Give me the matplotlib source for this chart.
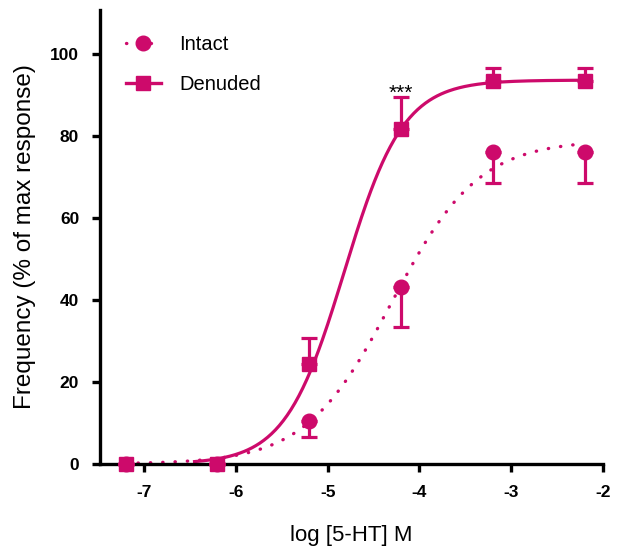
import numpy as np
import matplotlib
matplotlib.use("Agg")
import matplotlib.pyplot as plt
from matplotlib.lines import Line2D

# ---- data ----
log_conc = [-7.2, -6.2, -5.2, -4.2, -3.2, -2.2]
intact_mean = [0, 0, 10.4, 43.2, 76.1, 76.1]
intact_err_down = [0, 0, 3.8, 9.8, 7.6, 7.6]
denuded_mean = [0, 0, 24.4, 81.7, 93.4, 93.4]
denuded_err_up = [0, 0, 6.3, 7.8, 3.2, 3.2]

# sigmoid fit parameters (top, logEC50, hill)
intact_fit = (79.0, -4.30, 0.92)
denuded_fit = (93.6, -4.82, 1.35)

xticks = [-7, -6, -5, -4, -3, -2]
yticks = [0, 20, 40, 60, 80, 100]

color = '#CD0A6B'

plt.rcParams['font.family'] = ['Liberation Sans', 'DejaVu Sans']

fig = plt.figure(figsize=(6.17, 5.47), dpi=100)
ax = fig.add_axes([100/617, (547-464)/547, (603-100)/617, (464-10)/547])


def hill(x, p):
    top, ec, h = p
    return top / (1 + 10 ** ((ec - x) * h))


xi = np.linspace(-7.2, -2.2, 300)
ax.plot(xi, hill(xi, intact_fit), color=color, lw=2.4, linestyle=(0, (0.1, 3.6)),
        dash_capstyle='round', clip_on=False, zorder=2)
xd = np.linspace(-6.45, -2.2, 300)
ax.plot(xd, hill(xd, denuded_fit), color=color, lw=2.3, clip_on=False, zorder=2)

zeros = [0] * len(log_conc)
ax.errorbar(log_conc, intact_mean, yerr=[intact_err_down, zeros], fmt='o', color=color,
            ms=10.5, elinewidth=2.3, capsize=6, capthick=2.3, clip_on=False, zorder=3)
ax.errorbar(log_conc, denuded_mean, yerr=[zeros, denuded_err_up], fmt='s', color=color,
            ms=10, elinewidth=2.3, capsize=6, capthick=2.3, clip_on=False, zorder=3)

ax.text(-4.2, 90.5, '***', ha='center', va='center', fontsize=15)

ax.set_xlim(-7.48, -2)
ax.set_ylim(0, 110.7)
ax.set_xticks(xticks)
ax.set_xticklabels([str(t) for t in xticks])
ax.set_yticks(yticks)
for lab in ax.get_xticklabels() + ax.get_yticklabels():
    lab.set_fontweight('bold')
    lab.set_fontsize(12.5)

for s in ['top', 'right']:
    ax.spines[s].set_visible(False)
for s in ['left', 'bottom']:
    ax.spines[s].set_linewidth(2.4)
ax.tick_params(width=2.4, length=6, direction='out', pad=9)

ax.set_xlabel('log [5-HT] M', fontsize=16, labelpad=18)
ax.set_ylabel('Frequency (% of max response)', fontsize=17.5, labelpad=10)

handles = [
    Line2D([0], [0], color=color, lw=2.4, linestyle=(0, (0.1, 3.6)), dash_capstyle='round',
           marker='o', ms=10.5),
    Line2D([0], [0], color=color, lw=2.4, marker='s', ms=10),
]
ax.legend(handles, ['Intact', 'Denuded'], loc='upper left', bbox_to_anchor=(0.015, 0.985),
          frameon=False, fontsize=14.5, handlelength=1.75, labelspacing=1.05, handletextpad=0.9)

fig.savefig('out.png', dpi=100)
